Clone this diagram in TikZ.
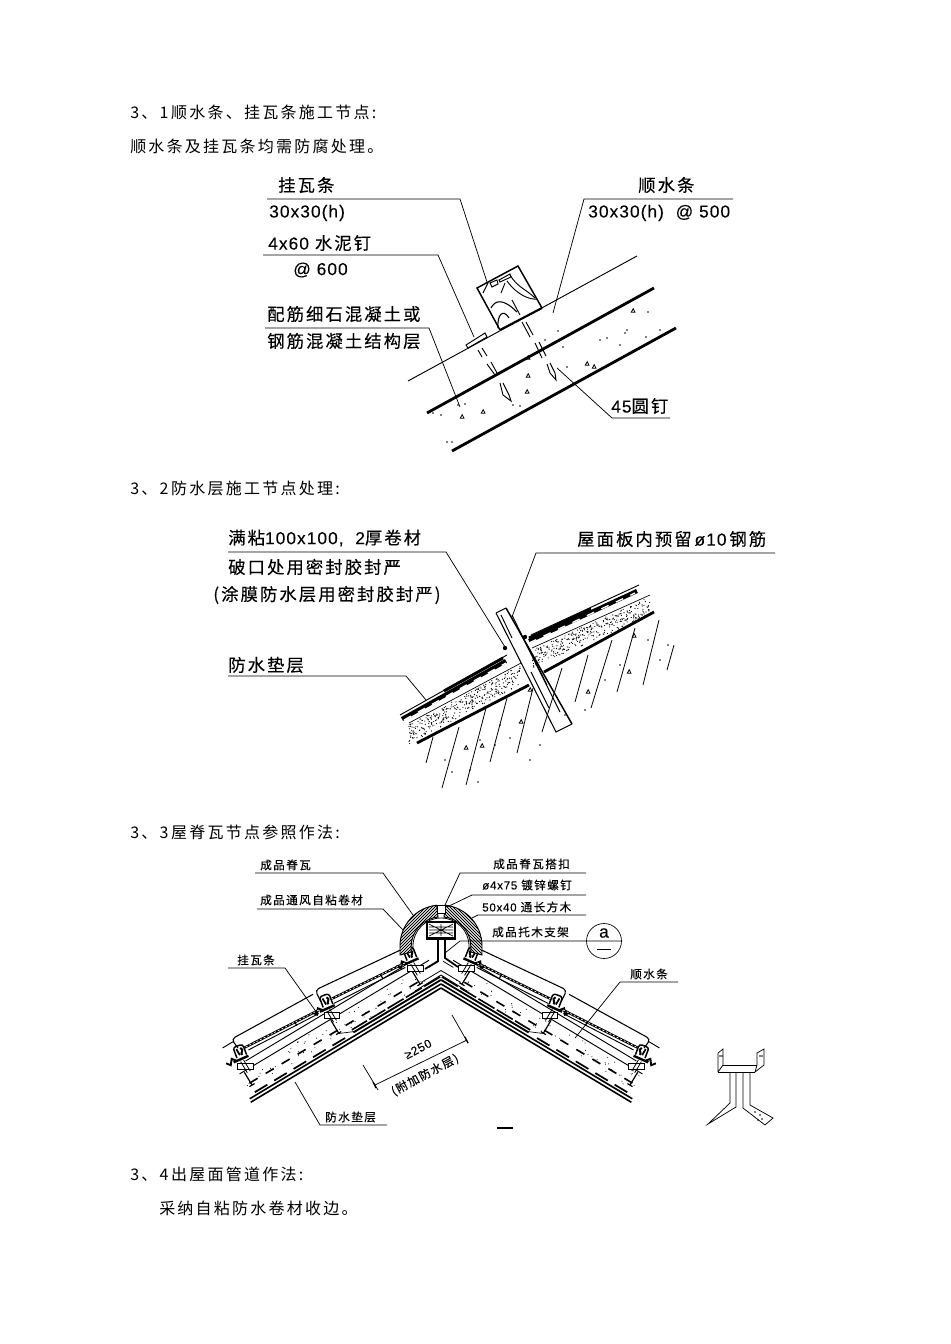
\documentclass[tikz,border=0pt]{standalone}
\usepackage{fontspec}
\setmainfont{Noto Sans CJK SC}
\newfontfamily\bodyfont[LetterSpace=14]{Noto Sans CJK SC}
\newfontfamily\tagfont[LetterSpace=12,FakeBold=.2]{Noto Sans CJK SC}
\newfontfamily\plainf[LetterSpace=6,FakeBold=.1]{Liberation Sans}
\tikzset{
  body/.style={anchor=west,inner sep=0pt,font=\bodyfont\fontsize{12pt}{13pt}\selectfont},
  tag/.style={anchor=west,inner sep=0pt,font=\tagfont\fontsize{13pt}{14pt}\selectfont},
  small tag/.style={anchor=west,inner sep=0pt,font=\tagfont\fontsize{8.7pt}{10pt}\selectfont},
  leader/.style={line width=.55pt},
  heavy/.style={line width=2.1pt},
  band/.style={line width=.7pt}
}
% small triangles of the aggregate
\newcommand{\stone}[2]{\draw[line width=.6pt] (#1-1.8,#2+1.3) -- ++(3.8,0) -- ++(-1.8,-3.6) -- cycle;}
% dots in a sloping strip: start, end, depth, how many
\newcommand{\stipple}[6]{
  \foreach \i in {1,...,#6}{
    \pgfmathsetmacro\ta{rnd}\pgfmathsetmacro\tb{rnd}
    \pgfmathsetmacro\sx{#1+\ta*(#3-#1)}\pgfmathsetmacro\sy{#2+\ta*(#4-#2)+\tb*#5}
    \fill (\sx,\sy) circle (.45pt);
  }
}
% the two halves of the ridge tile
\newcommand{\archleft}{(400,955) -- (400,946) arc[start angle=180,end angle=264,radius=41] -- (438,917) arc[start angle=264,end angle=180,radius=30] -- (411,952) -- cycle}
\newcommand{\archright}{(482,955) -- (482,946) arc[start angle=360,end angle=276,radius=41] -- (444,917) arc[start angle=276,end angle=360,radius=30] -- (471,952) -- cycle}
% one tile foot on the ridge drawing: place along the slope, drop
\newcommand{\tilefoot}[2]{
  \draw[line width=.7pt,fill=white] (#1-5,#2+29) rectangle (#1+5,#2+42);
  \draw[line width=.6pt] (#1-1.7,#2+29) -- (#1-1.7,#2+42) (#1+1.7,#2+29) -- (#1+1.7,#2+42);
  \draw[line width=1.8pt] (#1-8,#2+43) -- (#1+8,#2+45);
  \draw[line width=1.1pt,rounded corners=2pt] (#1-7,#2+45) -- (#1-9,#2+56) -- (#1+1,#2+58) -- (#1+3,#2+47);
  \draw[line width=1.5pt] (#1-5,#2+54) .. controls (#1-8,#2+50) and (#1-2,#2+50) .. (#1-3,#2+47);
  \draw[line width=1.3pt] (#1-1,#2+55) -- (#1-1,#2+48);
  \draw[line width=1.4pt] (#1+4,#2+44) -- (#1+8,#2+49) -- (#1+12,#2+44) -- (#1+15,#2+48);
}
% one side of the ridge, u along the slope, v square to it
\newcommand{\roofside}{
  \draw[line width=1.2pt] (0,0) -- (222,0) (-2,3.5) -- (221,3.5);
  \draw[line width=1.4pt] (-4,7) -- (98,7);
  \draw[line width=1.2pt,dash pattern=on 14pt off 2pt] (-5,10) -- (98,10);
  \draw[line width=.5pt] (96,7) -- (112,14);
  \draw[line width=1.3pt,dash pattern=on 11pt off 6pt] (108,6.5) -- (219,6.5);
  \draw[line width=1.2pt,dash pattern=on 7pt off 7pt] (17,17) -- (214,17);
  \draw[line width=.6pt] (-9,15) -- (14,15);
  \draw[line width=.6pt] (-12,24) -- (0,24);
  \foreach \n in {16,111,212}{
    \draw[line width=.9pt] (\n,29) -- (\n,14);
    \draw[line width=.9pt] (\n-3,14) -- (\n+3,14);
  }
  \foreach \i in {1,...,55}{
    \pgfmathsetmacro\ta{rnd}\pgfmathsetmacro\tb{rnd}
    \pgfmathsetmacro\sx{5+\ta*212}\pgfmathsetmacro\sy{11+\tb*17}
    \fill (\sx,\sy) circle (.4pt);
  }
  \draw[band] (-4,30) -- (217,30);
  \draw[band] (20,38) -- (205,38);
  \tilefoot{12}{-6}
  \tilefoot{108}{-3}
  \tilefoot{208}{-2}
  % the tiles
  \draw[line width=1.8pt] (116,44) -- (199,50);
  \draw[line width=1.8pt] (18,40) -- (99,47);
  \draw[line width=.5pt,white,dash pattern=on 1.5pt off 1.5pt] (116,44) -- (199,50) (18,40) -- (99,47);
  \draw[band] (118,41) -- (197,46);
  \draw[band] (20,36) -- (100,42);
  \draw[line width=.9pt] (143,47) -- (143,42) (45,43) -- (45,38);
  \draw[line width=.8pt,rounded corners=3pt] (205,53) -- (206,64) -- (113,60.5);
  \draw[line width=.8pt,rounded corners=3pt] (110,50) -- (109,63) -- (11,53);
  \draw[band] (206,61) -- (218,61);
}
\begin{document}
\begin{tikzpicture}[x=.75pt,y=-.75pt]
\useasboundingbox (0,0) rectangle (950,1344);
\pgfmathsetseed{11}

% --- text of the page
\node[body] (sec1) at (130,112) {3、1\hspace{2pt}顺水条、挂瓦条施工节点:};
\node[body] (sec1b) at (130,146) {顺水条及挂瓦条均需防腐处理。};
\node[body] (sec2) at (130,488) {3、2\hspace{2pt}防水层施工节点处理:};
\node[body] (sec3) at (130,832) {3、3\hspace{2pt}屋脊瓦节点参照作法:};
\node[body] (sec4) at (130,1174) {3、4\hspace{2pt}出屋面管道作法:};
\node[body] (sec4b) at (159,1208) {采纳自粘防水卷材收边。};

% --- batten detail
\node[tag] (tile) at (278,185) {挂瓦条};
\node[tag] (tilesize) at (269,213) {\plainf 30x30(h)};
\node[tag] (nail) at (268,243) {{\plainf 4x60} 水泥钉};
\node[tag] (nailstep) at (293,270) {\plainf @ 600};
\node[tag] (slabA) at (267,314) {配筋细石混凝土或};
\node[tag] (slabB) at (267,341) {钢筋混凝土结构层};
\node[tag] (strip) at (638,185) {顺水条};
\node[tag] (stripsize) at (588,213) {\plainf 30x30(h)\ \ @ 500};
\node[tag] (roundnail) at (611,406) {{\plainf 45}圆钉};

\draw[leader] (267,199) -- (460,199) -- (487,282);
\draw[leader] (733,199) -- (584,199) -- (553,313);
\draw[leader] (263,255) -- (438,255) -- (474,337);
\draw[leader] (265,328) -- (429,328) -- (460,407);
\draw[leader] (670,418) -- (612,418) -- (557,368);

\draw[band] (408,381) -- (637,256);
\draw[heavy] (427,413) -- (654,288);
\draw[heavy] (452,451) -- (676,328);
\draw[line width=1.1pt] (500,330) -- (477,288) -- (518,266) -- (542,308);
\draw[line width=1.6pt] (500,330) -- (542,308);
\draw[band] (466,345) -- (485,333) -- (487,337) -- (468,348) -- cycle;
\draw[band] (478,350) -- (482,357) (482,348) -- (487,356);
\draw[band] (487,364) -- (495,375) (491,362) -- (497,373);
\draw[band] (500,383) -- (503,395) -- (511,401) -- (509,395) -- (503,383);
\draw[band] (522,322) -- (530,337) (526,322) -- (533,335);
\draw[band] (535,343) -- (542,358) (539,342) -- (546,356);
\draw[band] (547,364) -- (550,373) -- (556,380) -- (555,373) -- (550,363);
\draw[band] (490,283) -- (497,280) -- (498,284) -- (492,287) -- cycle;
\draw[band] (499,280) -- (510,274) -- (511,277) -- (500,282) -- cycle;
\draw[line width=.8pt] (491,308) .. controls (495,300) and (503,298) .. (517,312);
\draw[line width=.8pt] (498,328) .. controls (497,315) and (503,308) .. (509,318);
\draw[line width=.7pt] (510,275) .. controls (517,287) and (527,290) .. (535,298);
\draw[line width=.7pt] (507,281) .. controls (517,295) and (530,300) .. (537,299);
\draw[line width=.7pt] (512,300) -- (520,315) (488,283) -- (483,293) (505,283) -- (501,293);
\foreach \x/\y in {462/417,483/412,528/376,527/392,587/364,594/367,633/311,528/358}{\stone{\x}{\y}}
\foreach \x/\y in {433/413,441/415,648/312,600/340,607/338,625/333,627/330,646/337,620/345,563/347,567/367,558/331,447/442,452/442,513/405,520/406,465/404,458/405,660/330,545/340}{\fill (\x,\y) circle (.6pt);}

% --- waterproof layer detail
\node[tag] (stickA) at (228,538) {满粘{\plainf 100x100,\ \ 2}厚卷材};
\node[tag] (stickB) at (228,567) {破口处用密封胶封严};
\node[tag] (stickC) at (213,595) {(涂膜防水层用密封胶封严)};
\node[tag] (underlay) at (228,665) {防水垫层};
\node[tag] (rebar) at (577,539) {屋面板内预留\,{\plainf ø10}\,钢筋};

\draw[leader] (228,552) -- (446,552) -- (505,647);
\draw[leader] (775,553) -- (536,553) -- (512,617);
\draw[leader] (228,676) -- (406,676) -- (426,700);

\stipple{409}{725}{521}{665}{19}{340}
\stipple{532}{650}{650}{597}{18}{340}
\draw[band] (400,715) -- (507,655) (531,635) -- (639,585);
\draw[line width=.5pt] (409,723) -- (521,663) (532,648) -- (650,595);
\draw[line width=3.2pt] (402,719) -- (506,661) (529,641) -- (637,591);
\draw[line width=2.2pt] (444,691) -- (503,658) (529,638) -- (591,609);
\draw[line width=1pt,white,dash pattern=on 6pt off 6pt] (404,720) -- (506,663) (529,643) -- (635,593);
\draw[heavy] (417,743) -- (529,685) (544,672) -- (654,612);
\foreach \x/\y in {505/648,525/637}{\fill (\x,\y) circle (2.2);}
\foreach \ax/\ay/\bx/\by in {433/737/426/763,459/727/442/788,486/708/466/785,507/698/490/762,533/688/517/753,562/668/542/732,588/655/575/702,612/640/591/708,635/628/617/692,659/620/643/685,674/645/667/670}{
  \draw[line width=.6pt] (\ax,\ay) -- (\bx,\by);
}
\foreach \x/\y in {466/748,482/746,521/722,588/692,629/672,634/636,530/690}{\stone{\x}{\y}}
\foreach \x/\y in {445/760,452/772,470/770,478/782,495/745,500/725,510/738,565/715,585/710,605/680,620/665,648/640,660/660,668/645,480/740,540/745,530/760}{\fill (\x,\y) circle (.6pt);}
\draw[line width=1.1pt] (506,608) -- (572,724);
\draw[line width=.8pt] (496,613) -- (556,732) -- (572,724);
\draw[line width=.7pt] (496,613) -- (506,608);
\draw[line width=.7pt] (501,615) -- (512,638) (512,615) -- (529,650) (518,628) -- (560,712) (529,648) -- (547,685) (531,672) -- (549,708);

% --- ridge detail
\node[small tag] (ridge) at (260,865) {成品脊瓦};
\node[small tag] (vent) at (260,900) {成品通风自粘卷材};
\node[small tag] (batten) at (237,960) {挂瓦条};
\node[small tag] (under) at (325,1117) {防水垫层};
\node[small tag] (clip) at (493,864) {成品脊瓦搭扣};
\node[small tag] (screw) at (482,885) {{\plainf ø4x75} 镀锌螺钉};
\node[small tag] (timber) at (482,907) {{\plainf 50x40} 通长方木};
\node[small tag] (holder) at (492,932) {成品托木支架};
\node[small tag] (counter) at (630,974) {顺水条};

\begin{scope}[shift={(441,988)},x={(-.643pt,-.386pt)},y={(-.386pt,.643pt)}]
  \roofside
\end{scope}
\begin{scope}[shift={(441,988)},x={(.643pt,-.386pt)},y={(.386pt,.643pt)}]
  \roofside
\end{scope}

\foreach \s in {1,-1}{
  \draw[line width=.6pt] (441+\s*0,975) -- (441+\s*26,991);
}
\draw[line width=1.3pt] (438,938) -- (438,961) -- (425,969);
\draw[line width=1.3pt] (445,938) -- (445,958) -- (458,967);
\fill[white] \archleft;
\fill[white] \archright;
\begin{scope}
  \clip \archleft;
  \foreach \k in {340,343,...,460}{\draw[line width=.6pt] (\k,960) -- (\k+60,900);}
\end{scope}
\begin{scope}
  \clip \archright;
  \foreach \k in {425,428,...,545}{\draw[line width=.6pt] (\k,960) -- (\k-60,900);}
\end{scope}
\draw[line width=.7pt] \archleft;
\draw[line width=.7pt] \archright;
\draw[line width=.6pt] (413,952) -- (413,946) arc[start angle=180,end angle=360,radius=28] -- (469,952);
\draw[line width=.7pt,fill=white] (437,905) rectangle (445,913);
\draw[line width=1pt,fill=white] (427,922) rectangle (455,938);
\draw[line width=2pt] (426,939) -- (456,939);
\draw[line width=.5pt] (429,924) -- (453,936) (429,936) -- (453,924) (429,930) -- (453,930) (429,927) -- (453,927) (429,933) -- (453,933) (441,924) -- (441,936);

\draw[leader] (255,873) -- (383,873) -- (413,915);
\draw[leader] (257,909) -- (383,909) -- (403,930);
\draw[leader] (228,968) -- (285,968) -- (317,1013);
\draw[leader] (387,1125) -- (320,1125) -- (295,1082);
\draw[leader] (586,873) -- (460,873) -- (445,905);
\draw[leader] (586,895) -- (472,895) -- (447,907);
\draw[leader] (586,915) -- (478,915) -- (472,918);
\draw[leader] (622,941) -- (460,941) -- (445,953);
\draw[leader] (678,982) -- (620,982) -- (575,1038);

\node[draw,circle,line width=.5pt,minimum size=35*.75pt,inner sep=0pt] (mark) at (604,941) {};
\node[inner sep=0pt,font=\plainf\fontsize{13pt}{13pt}\selectfont] (markA) at (604,933) {a};
\draw[line width=.6pt] (597,949) -- (611,949);

% dimension
\node[inner sep=0pt,font=\plainf\fontsize{9pt}{10pt}\selectfont,rotate=28] (dimA) at (418,1049) {≥250};
\node[small tag,anchor=center,rotate=28] (dimB) at (425,1075) {(附加防水层)};
\coordinate (dimL) at (375,1085);
\coordinate (dimR) at (467,1040);
\draw[leader] (dimL) -- (dimR);
\draw[leader] (363,1065) -- (378,1090) (452,1015) -- (468,1043);
\draw[line width=1pt] (373,1082) -- (376,1088) (465,1037) -- (468,1043);

% --- bracket on the right
\draw[line width=.55pt] (718,1072) -- (755,1072) (723,1065) -- (757,1065);
\draw[line width=.55pt] (718,1072) -- (718,1053) -- (723,1049) -- (723,1065) -- (718,1072);
\draw[line width=.55pt] (757,1065) -- (757,1053) -- (764,1049) -- (764,1065) -- (755,1072) -- (757,1065);
\draw[line width=.55pt] (730,1072) -- (730,1103) -- (708,1124) -- (736,1107) -- (736,1072);
\draw[line width=.55pt] (743,1072) -- (743,1108) -- (765,1125) -- (773,1118) -- (750,1105) -- (750,1072);
\foreach \x/\y in {720/1056,722/1056,760/1056,762/1056,755/1112,760/1115,762/1119,758/1120}{\fill (\x,\y) circle (.6pt);}
\draw[line width=1.4pt] (497,1128) -- (513,1128);
\end{tikzpicture}
\end{document}
